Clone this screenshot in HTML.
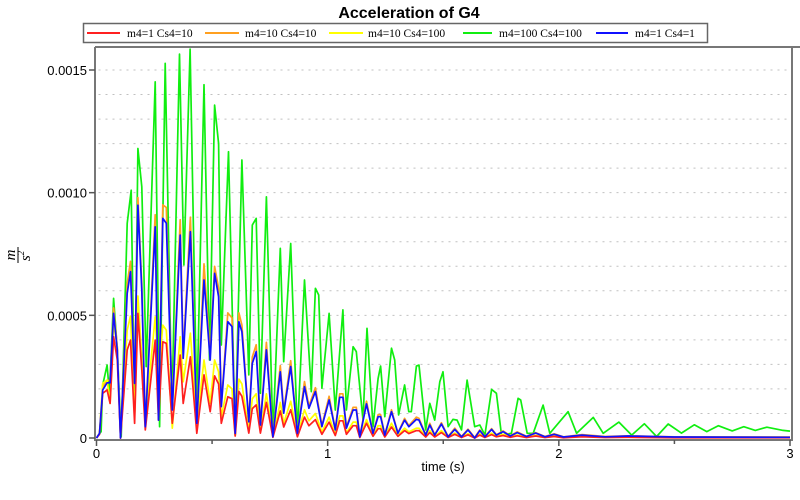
<!DOCTYPE html>
<html><head><meta charset="utf-8"><style>
body{margin:0;background:#fff;width:800px;height:500px;overflow:hidden}
svg{display:block;font-family:"Liberation Sans",sans-serif}
</style></head><body>
<svg id="chart" width="800" height="500">
<text x="409" y="18" text-anchor="middle" font-size="16" font-weight="bold">Acceleration of G4</text>
<g>
<rect x="83.5" y="23.5" width="624" height="19" fill="#fff" stroke="#666" stroke-width="1.5"/>
<g font-family="Liberation Serif,serif" font-size="11.5">
<line x1="87" y1="33" x2="120" y2="33" stroke="#ff2020" stroke-width="2"/><text x="127" y="37">m4=1 Cs4=10</text>
<line x1="205" y1="33" x2="239" y2="33" stroke="#ffa020" stroke-width="2"/><text x="245" y="37">m4=10 Cs4=10</text>
<line x1="329" y1="33" x2="363" y2="33" stroke="#ffff00" stroke-width="2"/><text x="368" y="37">m4=10 Cs4=100</text>
<line x1="463" y1="33" x2="492" y2="33" stroke="#10ee10" stroke-width="2"/><text x="499" y="37">m4=100 Cs4=100</text>
<line x1="596" y1="33" x2="628" y2="33" stroke="#1010ff" stroke-width="2"/><text x="635" y="37">m4=1 Cs4=1</text>
</g></g>
<g id="grid"></g>
<g id="series"></g>
<g id="axes"></g>
<text x="443" y="471" text-anchor="middle" font-size="13">time (s)</text>
<g transform="translate(18,255) rotate(-90)" font-family="Liberation Serif,serif" font-style="italic" font-size="15">
<text x="0" y="-3" text-anchor="middle">m</text>
<line x1="-8" y1="0" x2="8" y2="0" stroke="#000" stroke-width="1"/>
<text x="-1" y="12" text-anchor="middle">s<tspan font-size="9" dy="-6">2</tspan></text>
</g>
</svg>
<script>
const xTicks=[0,1,2,3];
const yTicks=[0,0.0005,0.0010,0.0015];
const yTickLabels=["0","0.0005","0.0010","0.0015"];
const seriesNames=["m4=1 Cs4=10","m4=10 Cs4=10","m4=10 Cs4=100","m4=100 Cs4=100","m4=1 Cs4=1"];
// shared time grid for red/orange/yellow/blue (s)
const timesA=[0,.013,.027,.046,.059,.074,.090,.104,.133,.147,
.165,.179,.196,.211,.254,.268,.287,.302,.328,.362,
.375,.406,.434,.465,.492,.511,.528,.540,.568,.586,
.600,.616,.629,.659,.674,.691,.709,.735,.763,.795,
.810,.840,.869,.900,.919,.947,.975,1.006,1.033,1.052,
1.066,1.081,1.110,1.124,1.139,1.168,1.196,1.218,1.229,1.247,
1.276,1.304,1.333,1.351,1.384,1.395,1.424,1.442,1.463,1.492,
1.521,1.550,1.579,1.607,1.636,1.658,1.680,1.709,1.730,1.759,
1.79,1.82,1.86,1.90,1.94,1.98,2.02,2.10,2.20,2.30,
2.50,3.0];
// values in units of 1e-4 m/s^2
const redE4=[0,.15,1.82,1.96,1.41,4.13,3.18,0,3.59,3.99,
.60,5.08,2.77,.33,3.99,.73,3.92,3.86,.60,3.38,
1.41,3.31,.19,2.57,1.07,2.53,2.2,.60,1.68,1.6,
.08,1.9,1.7,.2,1.2,1.35,.2,1.45,.03,1.1,
.45,1.15,.05,.85,.5,.75,.15,.65,.1,.7,
.7,.15,.5,.5,.02,.6,.07,.38,.38,.04,
.45,.07,.3,.18,.3,.3,.04,.22,.04,.22,
.02,.15,.02,.13,0,.12,.02,.14,.05,.1,
.03,.09,.02,.08,.02,.06,.01,.05,.02,.03,
.01,.01];
const orangeE4=[0,.19,2.05,2.35,2.35,5.3,3.7,0,6.3,7.2,
2.3,9.8,6.3,.5,9.1,.8,9.5,9.4,1.2,8.9,
3.4,9.0,.65,7.1,3.4,7.0,6.1,1.35,5.1,4.9,
.2,5.1,4.6,.7,3.3,3.8,.6,3.9,.1,2.95,
1.1,3.15,.2,2.3,1.3,2.05,.5,1.7,.35,1.8,
1.8,.45,1.25,1.25,.06,1.5,.2,.95,.95,.13,
1.15,.2,.8,.5,.85,.8,.13,.6,.13,.62,
.06,.4,.06,.36,.02,.33,.06,.38,.13,.29,
.09,.25,.07,.22,.06,.17,.05,.14,.06,.09,
.05,.04];
const yellowE4=[0,.19,2.23,2.36,1.41,4.67,3.72,.05,4.40,4.97,
.87,5.79,3.31,.73,4.94,2.50,4.60,4.4,.40,4.13,
2.29,4.27,.60,3.18,1.41,3.18,2.7,.87,2.16,2.0,
.1,2.4,2.2,.3,1.6,1.8,.3,1.8,.05,1.45,
.6,1.5,.1,1.15,.7,1.0,.25,.85,.15,.9,
.9,.2,.65,.65,.03,.75,.1,.5,.5,.06,
.6,.1,.4,.25,.4,.4,.06,.3,.06,.3,
.03,.2,.03,.18,.01,.17,.03,.2,.07,.15,
.05,.12,.03,.11,.03,.08,.02,.07,.03,.04,
.02,.02];
const blueE4=[0,.19,1.96,2.25,2.25,5.08,3.59,0,5.90,6.78,
2.23,9.49,6.03,.46,8.61,.73,8.95,8.75,1.14,8.27,
3.25,8.41,.60,6.44,3.18,6.71,5.76,1.28,4.74,4.54,
.19,4.74,4.33,.66,3.04,3.52,.53,3.59,.05,2.70,
1.01,2.91,.19,2.09,1.21,1.89,.46,1.55,.33,1.66,
1.66,.40,1.14,1.14,.05,1.39,.19,.87,.87,.12,
1.07,.19,.73,.46,.76,.73,.12,.53,.12,.57,
.05,.35,.05,.33,0,.30,.05,.35,.12,.26,
.08,.22,.06,.20,.05,.15,.04,.12,.05,.08,
.04,.03];
const timesGreen=[0,.020,.027,.046,.056,.074,.090,.107,.133,.150,
.165,.179,.196,.215,.254,.273,.297,.326,.359,.378,
.405,.434,.465,.489,.511,.528,.540,.571,.600,.629,
.659,.674,.691,.709,.735,.763,.795,.810,.840,.869,
.900,.929,.947,.961,.975,1.006,1.033,1.066,1.081,1.110,
1.124,1.153,1.170,1.196,1.218,1.229,1.247,1.276,1.290,1.307,
1.333,1.351,1.362,1.384,1.395,1.424,1.442,1.463,1.485,1.499,
1.521,1.542,1.560,1.579,1.603,1.636,1.658,1.680,1.709,1.730,
1.752,1.795,1.824,1.835,1.863,1.889,1.932,1.961,2.040,2.077,
2.149,2.192,2.26,2.315,2.37,2.423,2.473,2.53,2.586,2.64,
2.69,2.75,2.80,2.85,2.90,2.97,3.0];
const greenE4=[0,.26,2.16,2.97,1.82,5.69,3.59,.05,8.75,10.1,
.80,11.8,10.24,2.91,14.52,.46,15.27,1.14,15.65,7.05,
15.85,1.14,14.4,3.18,13.57,12.0,3.79,11.67,.12,11.33,
2.57,8.68,8.95,1.82,9.83,.12,7.73,3.11,7.93,.19,
6.44,1.89,6.1,5.83,2.03,5.08,1.14,5.22,1.14,3.72,
3.52,.73,4.47,.46,2.43,2.93,.87,3.66,3.18,.94,
2.16,1.07,1.07,2.93,2.97,.33,1.41,.73,2.29,2.70,
.46,.76,.73,.33,2.36,.46,.53,.12,1.98,1.82,
.12,.19,1.62,1.55,.19,.19,1.34,.19,1.07,.19,
.84,.19,.65,.12,.58,.06,.57,.2,.54,.26,
.50,.29,.46,.31,.44,.31,.28];

const NS='http://www.w3.org/2000/svg';
const X0=96.5,X1=790,Y0=438,Y15=70;
function xs(t){return X0+(X1-X0)*t/3;}
function ys(v){return Y0-(Y0-Y15)*v/0.0015;}
function mk(tag,attrs,parent){const e=document.createElementNS(NS,tag);for(const k in attrs)e.setAttribute(k,attrs[k]);parent.appendChild(e);return e;}
const grid=document.getElementById('grid'),axes=document.getElementById('axes'),ser=document.getElementById('series');
for(let i=1;i<=15;i++){
  const l=mk('line',{x1:X0+2,x2:X1,y1:ys(i*0.0001),y2:ys(i*0.0001),stroke:'#c0c0c0','stroke-width':1,'stroke-dasharray':'2,5'},grid);
  
  
}
const fr=mk('path',{d:`M95,47 H800 M95,47 V440 H792 V47`,fill:'none',stroke:'#777','stroke-width':2},axes);


yTicks.forEach((v,i)=>{
  mk('line',{x1:89,x2:95,y1:ys(v),y2:ys(v),stroke:'#555','stroke-width':1.5},axes);
  const t=mk('text',{x:87,y:ys(v)+5,'text-anchor':'end','font-size':13},axes);
  t.textContent=yTickLabels[i];
  
  
});
for(let k=0;k<=6;k++){const x=xs(k*0.5);mk('line',{x1:x,x2:x,y1:440,y2:k%2?444:446,stroke:'#555','stroke-width':1.5},axes);}
xTicks.forEach(v=>{
  const t=mk('text',{x:xs(v),y:458,'text-anchor':'middle','font-size':13},axes);
  t.textContent=String(v);
  
  
});
function draw(ts,vals,color,name){
  const d=ts.map((t,i)=>(i?'L':'M')+xs(t).toFixed(1)+','+ys(vals[i]*1e-4).toFixed(1)).join('');
  const p=mk('path',{d:d,fill:'none',stroke:color,'stroke-width':1.7,'stroke-linejoin':'round'},ser);
  
  
}
draw(timesGreen,greenE4,'#10ee10','series-green');
draw(timesA,orangeE4,'#ffa020','series-orange');
draw(timesA,yellowE4,'#ffff00','series-yellow');
draw(timesA,redE4,'#ff2020','series-red');
draw(timesA,blueE4,'#1010ff','series-blue');
</script>
</body></html>
